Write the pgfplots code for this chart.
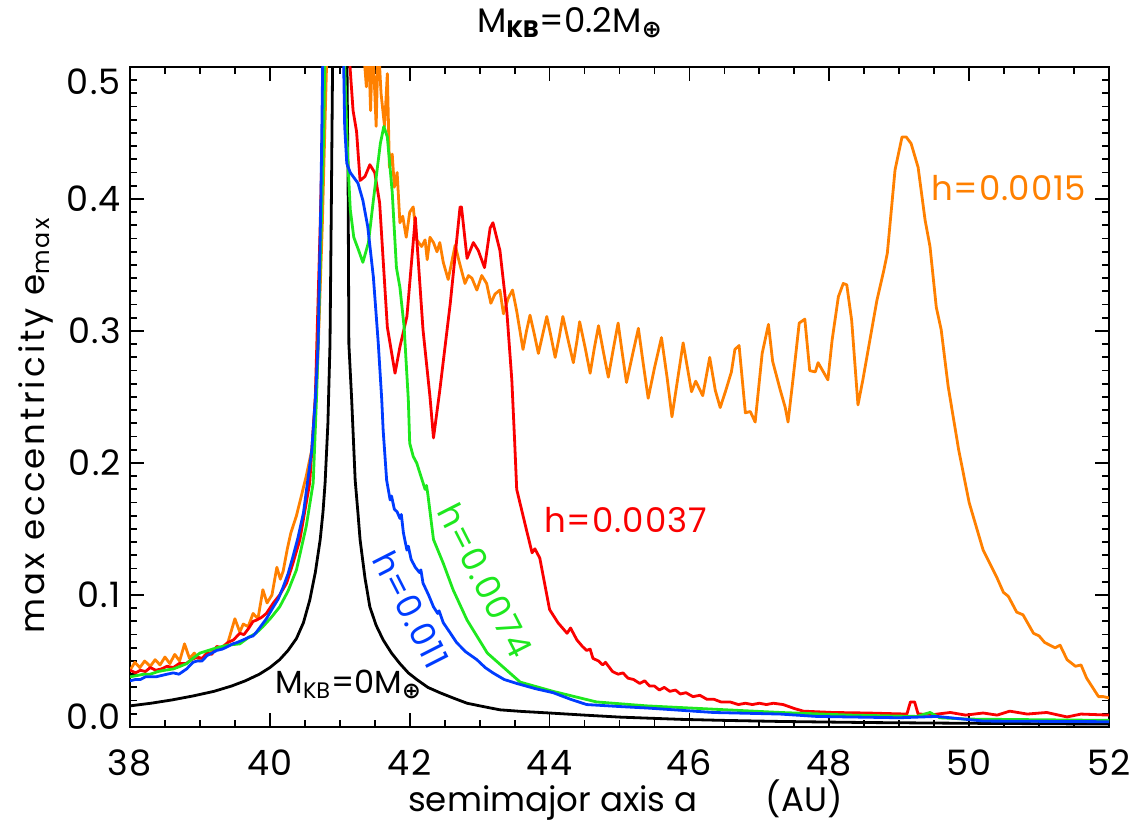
\documentclass[border=0pt]{standalone}
\usepackage{pgfplots}
\pgfplotsset{compat=1.18}
\usepackage{fontspec}
\setmainfont{Poppins}
\newfontfamily\dejavu{DejaVu Sans}
\definecolor{cOrange}{RGB}{255,128,0}
\definecolor{cRed}{RGB}{250,0,0}
\definecolor{cGreen}{RGB}{30,232,30}
\definecolor{cBlue}{RGB}{0,60,255}
\newcommand{\oplussub}{\textsubscript{\dejavu\bfseries ⊕}}
\newcommand{\txt}{\fontsize{17}{19}\selectfont}
\begin{document}
\begin{tikzpicture}
\useasboundingbox (-65pt,-53pt) rectangle (504pt,363.5pt);
\begin{axis}[
  at={(0,0)}, anchor=south west, scale only axis,
  width=489.5pt, height=330pt,
  xmin=38, xmax=52, ymin=0, ymax=0.5,
  xtick={38,40,42,44,46,48,50,52},
  xticklabels={38,40,42,44,46,48,50,52},
  minor x tick num=3,
  ytick={0,0.1,0.2,0.3,0.4,0.5},
  yticklabels={{\raisebox{5pt}[\height][\depth]{0.0}},0.1,0.2,0.3,0.4,{\raisebox{-7.5pt}[\height][\depth]{0.5}}},
  minor y tick num=9,
  tick align=inside,
  major tick length=7pt, minor tick length=3.5pt,
  axis line style={line width=1.4pt},
  every tick/.style={black, line width=0.9pt},
  tick label style={font=\fontsize{17.5}{19}\selectfont\addfontfeature{LetterSpace=4}},
  xticklabel style={yshift=-8pt},
  yticklabel style={xshift=-1pt},
  label style={font=\txt},
  xlabel={semimajor axis a\hspace{2.0em}(AU)},
  xlabel style={at={(axis description cs:0.506,-0.111)}, anchor=center},
  ylabel={\addfontfeature{LetterSpace=9}max eccentricity e\textsubscript{max}},
  ylabel style={at={(axis description cs:-0.096,0.457)}, anchor=center},
  every axis plot/.append style={line width=1.4pt, line join=round},
]
% black: M_KB = 0
\addplot[black] coordinates {
(38.0,0.016)(38.3,0.018)(38.6,0.0205)(38.9,0.0235)(39.2,0.027)(39.45,0.031)(39.65,0.035)(39.85,0.040)(40.0,0.045)(40.14,0.051)(40.26,0.058)(40.38,0.067)(40.48,0.079)(40.57,0.096)(40.65,0.117)(40.72,0.142)(40.76,0.163)(40.79,0.185)(40.83,0.23)(40.86,0.29)(40.88,0.40)(40.90,0.52)
(41.10,0.52)(41.12,0.40)(41.13,0.29)(41.17,0.248)(41.22,0.187)(41.26,0.162)(41.29,0.142)(41.36,0.113)(41.43,0.091)(41.52,0.077)(41.62,0.066)(41.74,0.056)(41.86,0.048)(41.98,0.041)(42.10,0.036)(42.26,0.030)(42.43,0.026)(42.62,0.022)(42.82,0.018)(43.05,0.0155)(43.29,0.013)(43.6,0.0118)(44.0,0.0106)(44.5,0.009)(45.0,0.0075)(45.87,0.0058)(46.5,0.005)(47.3,0.0042)(48.5,0.0034)(50,0.0028)(52,0.0022)
};
% orange: h = 0.0015
\addplot[cOrange] coordinates {
(38.0,0.043)(38.07,0.049)(38.14,0.045)(38.21,0.050)(38.29,0.046)(38.36,0.051)(38.43,0.047)(38.5,0.053)(38.57,0.048)(38.64,0.055)(38.71,0.050)(38.78,0.063)(38.85,0.052)(38.92,0.056)(39.0,0.050)(39.1,0.055)(39.2,0.058)(39.3,0.060)(39.4,0.064)(39.5,0.082)(39.57,0.072)(39.62,0.078)(39.69,0.076)(39.76,0.086)(39.83,0.082)(39.9,0.104)(39.96,0.094)(40.03,0.100)(40.1,0.121)(40.15,0.112)(40.19,0.118)(40.25,0.135)(40.3,0.147)(40.38,0.16)(40.45,0.175)(40.52,0.19)(40.6,0.21)(40.68,0.27)(40.75,0.38)(40.82,0.52)
(41.33,0.52)(41.38,0.485)(41.41,0.52)(41.44,0.467)(41.47,0.52)(41.52,0.455)(41.55,0.52)(41.59,0.48)(41.64,0.455)(41.68,0.495)(41.71,0.424)(41.75,0.434)(41.78,0.409)(41.82,0.42)(41.86,0.382)(41.9,0.387)(41.95,0.371)(42.0,0.39)(42.05,0.394)(42.1,0.369)(42.17,0.364)(42.22,0.369)(42.25,0.354)(42.29,0.371)(42.34,0.367)(42.39,0.36)(42.43,0.367)(42.48,0.352)(42.55,0.339)(42.65,0.365)(42.71,0.352)(42.79,0.336)(42.84,0.342)(42.89,0.340)(42.96,0.331)(43.03,0.342)(43.1,0.336)(43.16,0.321)(43.22,0.328)(43.29,0.331)(43.34,0.313)(43.41,0.325)(43.47,0.331)(43.53,0.315)(43.62,0.286)(43.67,0.300)(43.72,0.312)(43.78,0.298)(43.84,0.283)(43.9,0.297)(43.96,0.311)(44.02,0.296)(44.08,0.28)(44.14,0.296)(44.19,0.311)(44.27,0.292)(44.34,0.276)(44.39,0.292)(44.43,0.307)(44.51,0.287)(44.58,0.268)(44.64,0.287)(44.7,0.304)(44.77,0.284)(44.84,0.265)(44.91,0.286)(44.98,0.306)(45.04,0.283)(45.1,0.261)(45.19,0.283)(45.27,0.302)(45.34,0.275)(45.41,0.249)(45.5,0.272)(45.6,0.295)(45.68,0.265)(45.75,0.235)(45.83,0.263)(45.91,0.291)(46.03,0.254)(46.09,0.262)(46.19,0.251)(46.29,0.28)(46.37,0.255)(46.44,0.242)(46.52,0.255)(46.6,0.269)(46.65,0.286)(46.71,0.289)(46.8,0.238)(46.87,0.239)(46.94,0.231)(47.04,0.283)(47.13,0.305)(47.19,0.277)(47.3,0.255)(47.37,0.242)(47.41,0.231)(47.48,0.263)(47.57,0.306)(47.65,0.309)(47.72,0.27)(47.8,0.269)(47.84,0.276)(47.98,0.263)(48.04,0.293)(48.13,0.326)(48.2,0.336)(48.25,0.335)(48.32,0.308)(48.41,0.244)(48.48,0.263)(48.58,0.293)(48.68,0.323)(48.78,0.346)(48.83,0.359)(48.9,0.399)(48.94,0.422)(49.04,0.447)(49.1,0.447)(49.17,0.442)(49.27,0.424)(49.37,0.384)(49.44,0.364)(49.53,0.318)(49.6,0.301)(49.7,0.258)(49.85,0.21)(50.0,0.17)(50.2,0.134)(50.39,0.114)(50.49,0.102)(50.56,0.099)(50.68,0.087)(50.77,0.085)(50.92,0.071)(51.0,0.069)(51.08,0.064)(51.23,0.060)(51.3,0.062)(51.4,0.051)(51.52,0.046)(51.6,0.047)(51.68,0.037)(51.85,0.023)(51.92,0.023)(52,0.022)
};
% red: h = 0.0037
\addplot[cRed] coordinates {
(38.0,0.043)(38.08,0.041)(38.15,0.043)(38.22,0.042)(38.29,0.045)(38.37,0.043)(38.45,0.044)(38.53,0.046)(38.62,0.045)(38.7,0.048)(38.8,0.048)(38.88,0.051)(38.96,0.053)(39.03,0.052)(39.1,0.056)(39.17,0.055)(39.24,0.061)(39.32,0.060)(39.4,0.064)(39.48,0.066)(39.57,0.071)(39.63,0.070)(39.7,0.075)(39.76,0.080)(39.81,0.081)(39.88,0.083)(39.95,0.086)(40.05,0.094)(40.14,0.100)(40.24,0.109)(40.33,0.124)(40.43,0.142)(40.57,0.185)(40.65,0.25)(40.72,0.38)(40.78,0.52)
(41.12,0.52)(41.19,0.467)(41.24,0.451)(41.29,0.414)(41.36,0.417)(41.43,0.426)(41.5,0.42)(41.57,0.397)(41.62,0.354)(41.68,0.303)(41.79,0.268)(41.86,0.288)(41.96,0.311)(42.08,0.386)(42.19,0.301)(42.29,0.25)(42.34,0.219)(42.43,0.255)(42.58,0.321)(42.72,0.394)(42.74,0.394)(42.82,0.355)(42.91,0.367)(42.98,0.361)(43.07,0.348)(43.15,0.378)(43.19,0.382)(43.29,0.361)(43.39,0.314)(43.46,0.263)(43.5,0.217)(43.53,0.18)(43.68,0.147)(43.75,0.132)(43.79,0.135)(43.86,0.128)(44.0,0.089)(44.12,0.079)(44.25,0.071)(44.3,0.075)(44.39,0.066)(44.47,0.061)(44.53,0.058)(44.58,0.059)(44.62,0.052)(44.7,0.050)(44.76,0.047)(44.8,0.049)(44.9,0.042)(44.98,0.040)(45.05,0.041)(45.12,0.037)(45.2,0.036)(45.29,0.033)(45.36,0.035)(45.43,0.031)(45.5,0.031)(45.57,0.028)(45.64,0.030)(45.72,0.027)(45.8,0.028)(45.87,0.025)(45.95,0.026)(46.05,0.023)(46.15,0.024)(46.25,0.021)(46.35,0.021)(46.45,0.019)(46.58,0.019)(46.7,0.017)(46.8,0.018)(46.9,0.017)(47.0,0.018)(47.1,0.017)(47.2,0.018)(47.34,0.017)(47.5,0.014)(47.63,0.012)(48.05,0.011)(48.54,0.0106)(49.11,0.0098)(49.16,0.019)(49.22,0.019)(49.27,0.0098)(49.5,0.0095)(49.73,0.011)(49.95,0.009)(50.2,0.0106)(50.4,0.009)(50.58,0.012)(50.83,0.0098)(51.11,0.011)(51.4,0.0076)(51.6,0.0098)(52,0.009)
};
% green: h = 0.0074
\addplot[cGreen] coordinates {
(38.0,0.038)(38.1,0.039)(38.2,0.040)(38.29,0.040)(38.4,0.042)(38.5,0.043)(38.62,0.044)(38.72,0.046)(38.81,0.048)(38.9,0.052)(39.0,0.056)(39.12,0.058)(39.24,0.060)(39.4,0.062)(39.57,0.063)(39.7,0.068)(39.8,0.071)(39.9,0.076)(40.02,0.083)(40.14,0.091)(40.26,0.103)(40.38,0.119)(40.52,0.152)(40.62,0.185)(40.67,0.253)(40.72,0.35)(40.77,0.45)(40.79,0.52)
(41.06,0.52)(41.10,0.45)(41.12,0.424)(41.15,0.392)(41.20,0.371)(41.27,0.361)(41.33,0.352)(41.41,0.367)(41.48,0.399)(41.58,0.442)(41.63,0.455)(41.68,0.447)(41.75,0.405)(41.81,0.348)(41.86,0.333)(41.92,0.303)(41.98,0.248)(42.0,0.215)(42.05,0.205)(42.1,0.2)(42.22,0.18)(42.24,0.183)(42.26,0.176)(42.34,0.142)(42.48,0.124)(42.62,0.104)(42.82,0.081)(43.11,0.056)(43.43,0.041)(43.58,0.034)(44.05,0.027)(44.67,0.019)(45.39,0.016)(46.34,0.0135)(47.3,0.011)(48.3,0.009)(49.25,0.008)(49.44,0.011)(49.58,0.007)(49.97,0.006)(52,0.005)
};
% blue: h = 0.011
\addplot[cBlue] coordinates {
(38.0,0.035)(38.08,0.036)(38.15,0.036)(38.22,0.038)(38.29,0.038)(38.37,0.038)(38.45,0.039)(38.53,0.040)(38.62,0.041)(38.7,0.040)(38.81,0.044)(38.9,0.049)(38.96,0.050)(39.03,0.050)(39.1,0.054)(39.17,0.056)(39.24,0.058)(39.32,0.059)(39.4,0.061)(39.47,0.063)(39.53,0.064)(39.62,0.066)(39.7,0.068)(39.76,0.069)(39.81,0.072)(39.88,0.077)(39.95,0.082)(40.05,0.091)(40.12,0.097)(40.19,0.106)(40.26,0.116)(40.33,0.129)(40.4,0.143)(40.48,0.162)(40.6,0.21)(40.65,0.248)(40.69,0.29)(40.73,0.40)(40.76,0.52)
(41.05,0.52)(41.07,0.455)(41.10,0.427)(41.15,0.42)(41.26,0.412)(41.33,0.399)(41.40,0.379)(41.48,0.341)(41.55,0.291)(41.60,0.248)(41.62,0.225)(41.67,0.187)(41.72,0.172)(41.74,0.175)(41.78,0.165)(41.82,0.163)(41.86,0.158)(41.88,0.161)(41.91,0.147)(41.96,0.134)(41.98,0.137)(42.02,0.127)(42.08,0.121)(42.14,0.117)(42.16,0.119)(42.19,0.109)(42.27,0.100)(42.34,0.091)(42.4,0.086)(42.42,0.088)(42.48,0.079)(42.57,0.072)(42.67,0.064)(42.8,0.057)(42.96,0.051)(43.08,0.045)(43.19,0.041)(43.35,0.036)(43.53,0.033)(43.8,0.029)(44.05,0.026)(44.3,0.021)(44.53,0.017)(45.0,0.0155)(45.39,0.0144)(46.34,0.011)(47.3,0.0098)(47.82,0.008)(49.0,0.007)(49.54,0.008)(50.2,0.0045)(52,0.004)
};
\node[cOrange, anchor=west, font=\txt\addfontfeature{LetterSpace=2}] at (axis cs:49.36,0.408) {h=0.0015};
\node[cRed, anchor=west, font=\txt\addfontfeature{LetterSpace=3}] at (axis cs:43.82,0.157) {h=0.0037};
\node[cGreen, rotate=-63, font=\txt\addfontfeature{LetterSpace=4}] at (axis cs:43.08,0.111) {h=0.0074};
\node[cBlue, rotate=-63, font=\txt\addfontfeature{LetterSpace=4}] at (axis cs:42.02,0.089) {h=0.011};
\node[black, anchor=west, font=\fontsize{16}{18}\selectfont] at (axis cs:39.98,0.032) {M\textsubscript{KB}=0M\oplussub};
\end{axis}
\node[font=\txt] at (220pt,352pt) {M\textsubscript{\bfseries KB}=0.2M\oplussub};
\end{tikzpicture}
\end{document}
